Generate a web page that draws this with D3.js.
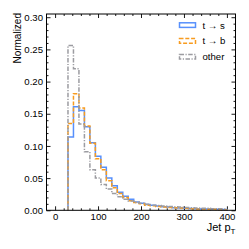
<!DOCTYPE html>
<html>
<head>
<meta charset="utf-8">
<script src="https://cdn.jsdelivr.net/npm/d3@7"></script>
<style>
  html, body { margin: 0; padding: 0; background: #fff; }
  svg { display: block; font-family: "Liberation Sans", Arial, sans-serif; }
</style>
</head>
<body>
<div class="jet-pt"></div>
<script>
// bin edges (jet pT), 29 bins from 30 to 400
const binEdges = [30, 42.76, 55.52, 68.28, 81.03, 93.79, 106.55, 119.31, 132.07, 144.83,
    157.59, 170.34, 183.10, 195.86, 208.62, 221.38, 234.14, 246.90, 259.66, 272.41,
    285.17, 297.93, 310.69, 323.45, 336.21, 348.97, 361.72, 374.48, 387.24, 400]

// normalized bin contents
const tToS = [0.114, 0.161, 0.155, 0.130, 0.105, 0.084, 0.067, 0.050, 0.038, 0.028,
    0.022, 0.017, 0.013, 0.011, 0.009, 0.008, 0.0065, 0.0055, 0.005, 0.004,
    0.0035, 0.003, 0.0028, 0.0025, 0.002, 0.002, 0.0018, 0.0015, 0.0012]
const tToB = [0.135, 0.181, 0.159, 0.131, 0.104, 0.080, 0.063, 0.046, 0.035, 0.026,
    0.020, 0.015, 0.012, 0.010, 0.008, 0.007, 0.006, 0.005, 0.0045, 0.004,
    0.0035, 0.003, 0.0025, 0.002, 0.002, 0.0018, 0.0015, 0.0012, 0.001]
const other = [0.256, 0.220, 0.134, 0.091, 0.063, 0.050, 0.040, 0.033, 0.026, 0.021,
    0.017, 0.0145, 0.012, 0.011, 0.0095, 0.008, 0.0075, 0.0065, 0.006, 0.0055,
    0.005, 0.0045, 0.004, 0.0035, 0.003, 0.003, 0.0025, 0.0025, 0.002]

const seriesNames = ["t \u2192 s", "t \u2192 b", "other"]
const xTicks = [0, 100, 200, 300, 400]
const yTicks = [0, 0.05, 0.10, 0.15, 0.20, 0.25, 0.30]

const width = 249
const height = 249
const margin = { top: 14, right: 13.5, bottom: 38.7, left: 46.5 }

const colors = ["#5790fc", "#f89c20", "#9c9ca1"]
const dashes = ["none", "4,1.8", "4.5,1.5,1.2,1.5"]

const series = [tToS, tToB, other].map((vals, i) => ({ name: seriesNames[i], values: vals }))

const x = d3.scaleLinear()
    .domain([-20, 420])
    .range([margin.left, width - margin.right])
const y = d3.scaleLinear()
    .domain([0, 0.305])
    .range([height - margin.bottom, margin.top])

const svg = d3.select(".jet-pt")
    .append("svg")
    .attr("width", width)
    .attr("height", height)

// minor tick positions
const xMinor = d3.range(0, 420, 20).filter(v => !xTicks.includes(v))
const yMinor = d3.range(1, 31).map(v => v / 100).filter(v => v % 0.05 > 0.001 && v % 0.05 < 0.049)

const axB = y.range()[0]
const axT = y.range()[1]
const axL = x.range()[0]
const axR = x.range()[1]

function styleAxis(g) {
    g.select(".domain").remove()
    g.selectAll(".tick line").attr("stroke", "#000").attr("stroke-width", 0.9)
    g.selectAll(".tick text")
        .attr("fill", "#000")
        .attr("font-size", "9.6px")
        .attr("font-family", "'Liberation Sans', Arial, sans-serif")
}

// bottom
svg.append("g")
    .attr("transform", `translate(0, ${axB})`)
    .call(d3.axisBottom(x).tickValues(xTicks).tickSize(-4).tickPadding(2.5).tickFormat(d3.format("d")))
    .call(styleAxis)
svg.append("g")
    .attr("transform", `translate(0, ${axB})`)
    .call(d3.axisBottom(x).tickValues(xMinor).tickSize(-2).tickFormat(""))
    .call(styleAxis)
// top
svg.append("g")
    .attr("transform", `translate(0, ${axT})`)
    .call(d3.axisTop(x).tickValues(xTicks).tickSize(-4).tickFormat(""))
    .call(styleAxis)
svg.append("g")
    .attr("transform", `translate(0, ${axT})`)
    .call(d3.axisTop(x).tickValues(xMinor).tickSize(-2).tickFormat(""))
    .call(styleAxis)
// left
svg.append("g")
    .attr("transform", `translate(${axL}, 0)`)
    .call(d3.axisLeft(y).tickValues(yTicks).tickSize(-4).tickPadding(3.5).tickFormat(d3.format(".2f")))
    .call(styleAxis)
svg.append("g")
    .attr("transform", `translate(${axL}, 0)`)
    .call(d3.axisLeft(y).tickValues(yMinor).tickSize(-2).tickFormat(""))
    .call(styleAxis)
// right
svg.append("g")
    .attr("transform", `translate(${axR}, 0)`)
    .call(d3.axisRight(y).tickValues(yTicks).tickSize(-4).tickFormat(""))
    .call(styleAxis)
svg.append("g")
    .attr("transform", `translate(${axR}, 0)`)
    .call(d3.axisRight(y).tickValues(yMinor).tickSize(-2).tickFormat(""))
    .call(styleAxis)

// step histograms
const stepLine = d3.line()
    .x(d => x(d[0]))
    .y(d => y(d[1]))

function stepPoints(values) {
    const pts = [[binEdges[0], 0]]
    values.forEach((v, i) => {
        pts.push([binEdges[i], v])
        pts.push([binEdges[i + 1], v])
    })
    pts.push([binEdges[binEdges.length - 1], 0])
    return pts
}

svg.selectAll("path.hist")
    .data(series)
    .join("path")
    .attr("class", "hist")
    .attr("fill", "none")
    .attr("stroke", (d, i) => colors[i])
    .attr("stroke-width", 1.5)
    .attr("stroke-dasharray", (d, i) => dashes[i])
    .attr("d", d => stepLine(stepPoints(d.values)))

// frame
svg.append("rect")
    .attr("x", axL)
    .attr("y", axT)
    .attr("width", axR - axL)
    .attr("height", axB - axT)
    .attr("fill", "none")
    .attr("stroke", "#000")
    .attr("stroke-width", 1)

// legend
svg.selectAll("rect.legend-box")
    .data(series)
    .join("rect")
    .attr("class", "legend-box")
    .attr("x", 179.5)
    .attr("y", (d, i) => 22.8 + i * 15.8)
    .attr("width", 16)
    .attr("height", 4.6)
    .attr("fill", "none")
    .attr("stroke", (d, i) => colors[i])
    .attr("stroke-width", 1.5)
    .attr("stroke-dasharray", (d, i) => dashes[i])

svg.selectAll("text.legend-label")
    .data(series)
    .join("text")
    .attr("class", "legend-label")
    .attr("x", 202.5)
    .attr("y", (d, i) => 25.1 + i * 15.8)
    .attr("dominant-baseline", "central")
    .attr("font-size", "9.6px")
    .attr("fill", "#000")
    .text(d => d.name)

// axis titles
svg.append("text")
    .attr("transform", `translate(${20.5}, ${axT - 1}) rotate(-90)`)
    .attr("text-anchor", "end")
    .attr("font-size", "10px")
    .attr("fill", "#000")
    .text("Normalized")

const xLabel = svg.append("text")
    .attr("x", axR)
    .attr("y", 231)
    .attr("text-anchor", "end")
    .attr("font-size", "11px")
    .attr("fill", "#000")
xLabel.append("tspan").text("Jet p")
xLabel.append("tspan").attr("font-size", "8px").attr("dy", 2.5).text("T")
</script>
</body>
</html>
